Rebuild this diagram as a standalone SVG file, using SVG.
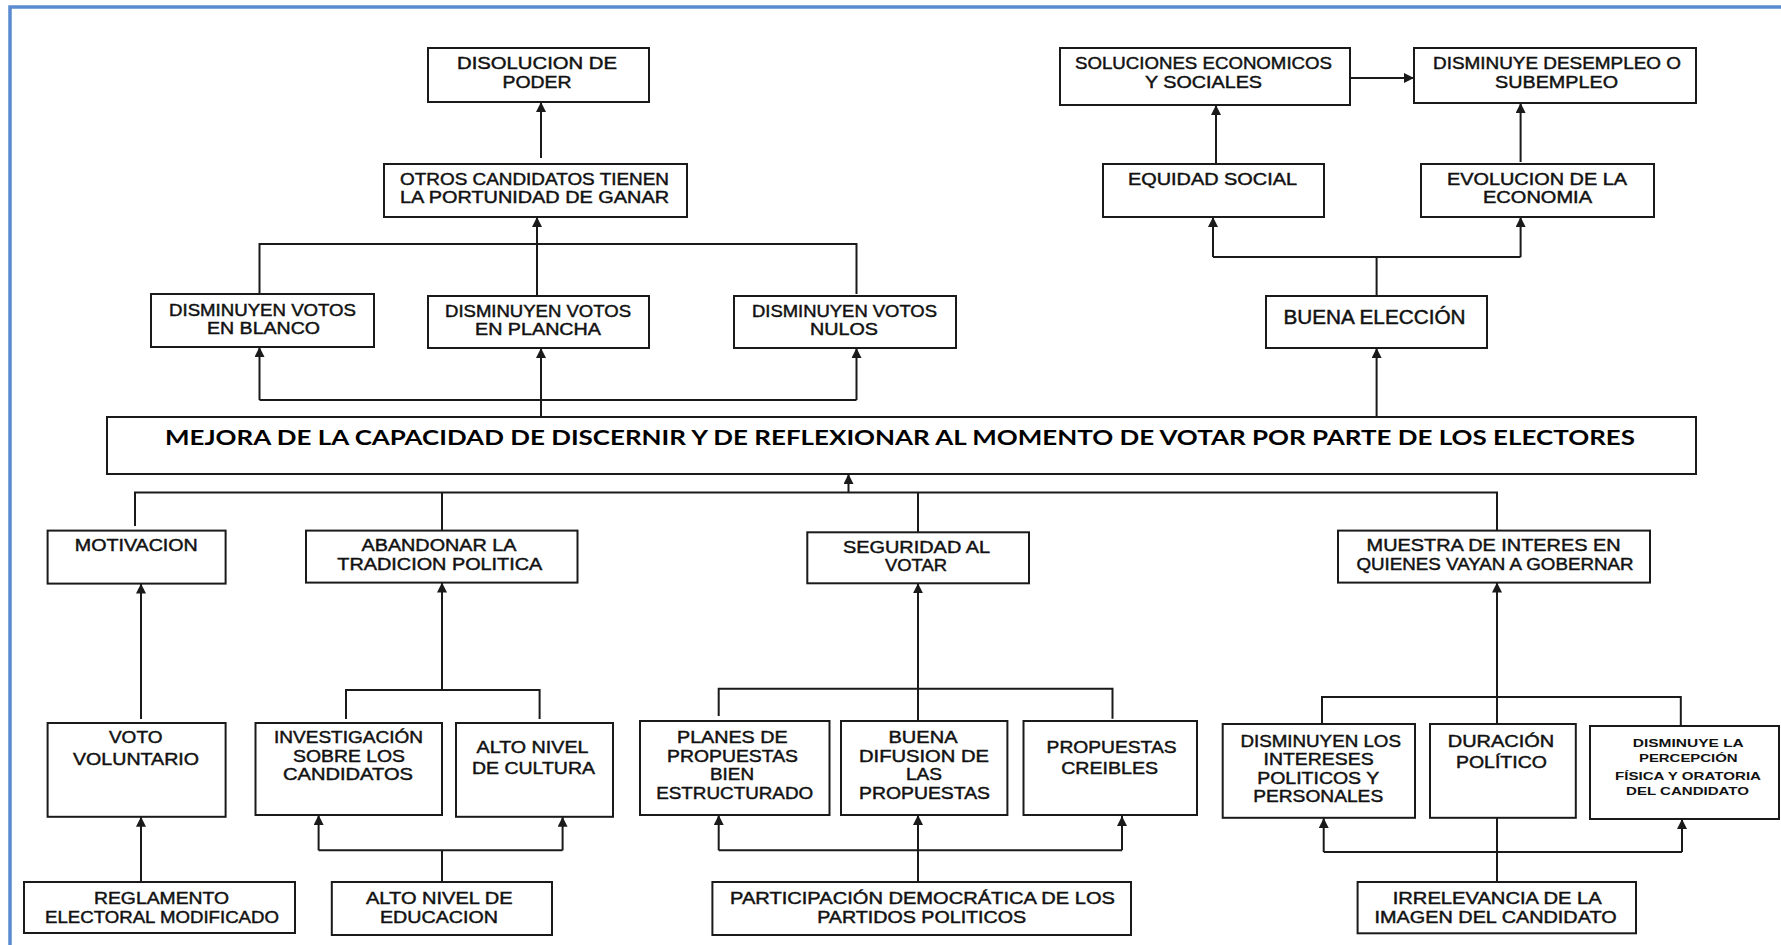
<svg xmlns="http://www.w3.org/2000/svg" width="1781" height="945" viewBox="0 0 1781 945">
<style>
.box{fill:#fff;stroke:#1a1a1a;stroke-width:2}
.c{fill:none;stroke:#1a1a1a;stroke-width:2}
.a{fill:none;stroke:#1a1a1a;stroke-width:2;marker-end:url(#ah)}
.t{font-family:"Liberation Sans",Arial,sans-serif;font-size:17px;fill:#111;stroke:#111;stroke-width:0.45;text-anchor:middle}
.big{font-size:19.5px}
.sm{font-size:11.5px;font-weight:bold;stroke-width:0}
.title{font-family:Lato,"Open Sans","Liberation Sans",sans-serif;font-size:21px;font-weight:bold;fill:#000;text-anchor:middle}
</style>
<defs>
<marker id="ah" viewBox="0 0 10 10" refX="10" refY="5" markerUnits="userSpaceOnUse" markerWidth="10" markerHeight="10" orient="auto">
<path d="M0,0 L10,5 L0,10 z" fill="#1a1a1a"/>
</marker>
</defs>
<rect width="1781" height="945" fill="#fff"/>
<path d="M10,945 V7 H1781" fill="none" stroke="#5a8ad0" stroke-width="3.5"/>

<g id="connectors">
<path class="a" d="M541,158 V102"/>
<path class="a" d="M537,296 V217"/>
<path class="c" d="M259.5,294 V244 H856.5 V294"/>
<path class="c" d="M259.5,400 H856.5"/>
<path class="a" d="M259.5,400 V347"/>
<path class="a" d="M856.5,400 V348"/>
<path class="a" d="M541,417 V348"/>
<path class="a" d="M1350,78 H1414"/>
<path class="a" d="M1216,163 V105"/>
<path class="a" d="M1520.6,162 V103"/>
<path class="c" d="M1376.6,296 V257"/>
<path class="c" d="M1213,257 H1520.6"/>
<path class="a" d="M1213,257 V217"/>
<path class="a" d="M1520.6,257 V217"/>
<path class="a" d="M1376.6,417 V348"/>
<path class="c" d="M135,526 V492.4 H1497 V530.6"/>
<path class="c" d="M442,492.4 V530.6"/>
<path class="c" d="M918,492.4 V532.3"/>
<path class="a" d="M848.5,492.4 V474"/>
<path class="a" d="M141,719 V583.6"/>
<path class="c" d="M346,719 V690 H539.6 V719"/>
<path class="a" d="M442,690 V582.5"/>
<path class="c" d="M718.7,716 V688.8 H1112.5 V718.7"/>
<path class="a" d="M918,721 V583.3"/>
<path class="c" d="M1322,724 V697 H1680.8 V726"/>
<path class="a" d="M1497,724 V582.5"/>
<path class="a" d="M141,882 V816.8"/>
<path class="c" d="M442,882 V850.3"/>
<path class="c" d="M318.6,850.3 H562.6"/>
<path class="a" d="M318.6,850.3 V815"/>
<path class="a" d="M562.6,850.3 V816.8"/>
<path class="a" d="M918,882 V815"/>
<path class="c" d="M718.7,850.3 H1122"/>
<path class="a" d="M718.7,850.3 V815"/>
<path class="a" d="M1122,850.3 V816"/>
<path class="c" d="M1497,882 V818"/>
<path class="c" d="M1323.7,852 H1682"/>
<path class="a" d="M1323.7,852 V818"/>
<path class="a" d="M1682,852 V819"/>
</g>

<g id="disolucion">
<rect class="box" x="428" y="48" width="221" height="54"/>
<text class="t" x="537" y="69" textLength="160" lengthAdjust="spacingAndGlyphs">DISOLUCION DE</text>
<text class="t" x="537" y="88" textLength="69" lengthAdjust="spacingAndGlyphs">PODER</text>
</g>
<g id="otros">
<rect class="box" x="384" y="164" width="303" height="53"/>
<text class="t" x="534.5" y="185" textLength="269" lengthAdjust="spacingAndGlyphs">OTROS CANDIDATOS TIENEN</text>
<text class="t" x="534.5" y="203" textLength="269" lengthAdjust="spacingAndGlyphs">LA PORTUNIDAD DE GANAR</text>
</g>
<g id="blanco">
<rect class="box" x="151" y="294" width="223" height="53"/>
<text class="t" x="262.5" y="316" textLength="187" lengthAdjust="spacingAndGlyphs">DISMINUYEN VOTOS</text>
<text class="t" x="263.5" y="334" textLength="113" lengthAdjust="spacingAndGlyphs">EN BLANCO</text>
</g>
<g id="plancha">
<rect class="box" x="428" y="296" width="221" height="52"/>
<text class="t" x="538" y="317" textLength="186" lengthAdjust="spacingAndGlyphs">DISMINUYEN VOTOS</text>
<text class="t" x="538" y="335" textLength="126" lengthAdjust="spacingAndGlyphs">EN PLANCHA</text>
</g>
<g id="nulos">
<rect class="box" x="734" y="296" width="222" height="52"/>
<text class="t" x="844.5" y="317" textLength="185" lengthAdjust="spacingAndGlyphs">DISMINUYEN VOTOS</text>
<text class="t" x="844" y="335" textLength="68" lengthAdjust="spacingAndGlyphs">NULOS</text>
</g>
<g id="soluciones">
<rect class="box" x="1060" y="48" width="290" height="57"/>
<text class="t" x="1203.5" y="69" textLength="257" lengthAdjust="spacingAndGlyphs">SOLUCIONES ECONOMICOS</text>
<text class="t" x="1203.5" y="88" textLength="117" lengthAdjust="spacingAndGlyphs">Y SOCIALES</text>
</g>
<g id="desempleo">
<rect class="box" x="1414" y="48" width="282" height="55"/>
<text class="t" x="1557" y="69" textLength="248" lengthAdjust="spacingAndGlyphs">DISMINUYE DESEMPLEO O</text>
<text class="t" x="1556.5" y="88" textLength="123" lengthAdjust="spacingAndGlyphs">SUBEMPLEO</text>
</g>
<g id="equidad">
<rect class="box" x="1103" y="164" width="221" height="53"/>
<text class="t" x="1212.5" y="185" textLength="169" lengthAdjust="spacingAndGlyphs">EQUIDAD SOCIAL</text>
</g>
<g id="evolucion">
<rect class="box" x="1421" y="164" width="233" height="53"/>
<text class="t" x="1537" y="185" textLength="180" lengthAdjust="spacingAndGlyphs">EVOLUCION DE LA</text>
<text class="t" x="1537.5" y="203" textLength="109" lengthAdjust="spacingAndGlyphs">ECONOMIA</text>
</g>
<g id="buena-eleccion">
<rect class="box" x="1266" y="296" width="221" height="52"/>
<text class="t big" x="1374.5" y="324" textLength="182" lengthAdjust="spacingAndGlyphs">BUENA ELECCIÓN</text>
</g>
<g id="mejora">
<rect class="box" x="107" y="417" width="1589" height="57"/>
<text class="title" x="900" y="445" textLength="1470" lengthAdjust="spacingAndGlyphs">MEJORA DE LA CAPACIDAD DE DISCERNIR Y DE REFLEXIONAR AL MOMENTO DE VOTAR POR PARTE DE LOS ELECTORES</text>
</g>
<g id="motivacion">
<rect class="box" x="47.6" y="530.6" width="178" height="53"/>
<text class="t" x="136.3" y="551" textLength="123" lengthAdjust="spacingAndGlyphs">MOTIVACION</text>
</g>
<g id="abandonar">
<rect class="box" x="306" y="530.6" width="271.5" height="52"/>
<text class="t" x="439" y="551" textLength="155" lengthAdjust="spacingAndGlyphs">ABANDONAR LA</text>
<text class="t" x="439.8" y="570" textLength="205" lengthAdjust="spacingAndGlyphs">TRADICION POLITICA</text>
</g>
<g id="seguridad">
<rect class="box" x="807.3" y="532.3" width="221.7" height="51"/>
<text class="t" x="916.5" y="553" textLength="147" lengthAdjust="spacingAndGlyphs">SEGURIDAD AL</text>
<text class="t" x="916" y="571" textLength="62" lengthAdjust="spacingAndGlyphs">VOTAR</text>
</g>
<g id="muestra">
<rect class="box" x="1338" y="530.6" width="312" height="52"/>
<text class="t" x="1493.6" y="551" textLength="254" lengthAdjust="spacingAndGlyphs">MUESTRA DE INTERES EN</text>
<text class="t" x="1495" y="570" textLength="277" lengthAdjust="spacingAndGlyphs">QUIENES VAYAN A GOBERNAR</text>
</g>
<g id="voto">
<rect class="box" x="47.6" y="723" width="178" height="93.8"/>
<text class="t" x="135.7" y="743" textLength="53.5" lengthAdjust="spacingAndGlyphs">VOTO</text>
<text class="t" x="136" y="764.5" textLength="126" lengthAdjust="spacingAndGlyphs">VOLUNTARIO</text>
</g>
<g id="investigacion">
<rect class="box" x="255.5" y="723" width="186.5" height="92"/>
<text class="t" x="348.5" y="743" textLength="149" lengthAdjust="spacingAndGlyphs">INVESTIGACIÓN</text>
<text class="t" x="349" y="762" textLength="112" lengthAdjust="spacingAndGlyphs">SOBRE LOS</text>
<text class="t" x="348" y="780" textLength="130" lengthAdjust="spacingAndGlyphs">CANDIDATOS</text>
</g>
<g id="cultura">
<rect class="box" x="456" y="723" width="157" height="93.8"/>
<text class="t" x="532.5" y="753" textLength="112" lengthAdjust="spacingAndGlyphs">ALTO NIVEL</text>
<text class="t" x="533.5" y="773.5" textLength="123" lengthAdjust="spacingAndGlyphs">DE CULTURA</text>
</g>
<g id="planes">
<rect class="box" x="640" y="721" width="189.5" height="94"/>
<text class="t" x="732.3" y="743" textLength="110.6" lengthAdjust="spacingAndGlyphs">PLANES DE</text>
<text class="t" x="732.5" y="762" textLength="131" lengthAdjust="spacingAndGlyphs">PROPUESTAS</text>
<text class="t" x="732" y="780" textLength="44" lengthAdjust="spacingAndGlyphs">BIEN</text>
<text class="t" x="734.7" y="799" textLength="157" lengthAdjust="spacingAndGlyphs">ESTRUCTURADO</text>
</g>
<g id="difusion">
<rect class="box" x="841" y="721" width="166.4" height="94"/>
<text class="t" x="923" y="743" textLength="69" lengthAdjust="spacingAndGlyphs">BUENA</text>
<text class="t" x="924" y="762" textLength="130" lengthAdjust="spacingAndGlyphs">DIFUSION DE</text>
<text class="t" x="924" y="780" textLength="36" lengthAdjust="spacingAndGlyphs">LAS</text>
<text class="t" x="924.5" y="799" textLength="131" lengthAdjust="spacingAndGlyphs">PROPUESTAS</text>
</g>
<g id="creibles">
<rect class="box" x="1023.5" y="721" width="173.5" height="94"/>
<text class="t" x="1111.6" y="753" textLength="130" lengthAdjust="spacingAndGlyphs">PROPUESTAS</text>
<text class="t" x="1109.7" y="773.5" textLength="97" lengthAdjust="spacingAndGlyphs">CREIBLES</text>
</g>
<g id="intereses">
<rect class="box" x="1222.7" y="724" width="192.3" height="93.8"/>
<text class="t" x="1320.7" y="746.5" textLength="160.5" lengthAdjust="spacingAndGlyphs">DISMINUYEN LOS</text>
<text class="t" x="1318.6" y="764.5" textLength="110" lengthAdjust="spacingAndGlyphs">INTERESES</text>
<text class="t" x="1318.2" y="783.5" textLength="122" lengthAdjust="spacingAndGlyphs">POLITICOS Y</text>
<text class="t" x="1318.2" y="802" textLength="130" lengthAdjust="spacingAndGlyphs">PERSONALES</text>
</g>
<g id="duracion">
<rect class="box" x="1430" y="724" width="145.8" height="93.8"/>
<text class="t" x="1501" y="746.5" textLength="106.5" lengthAdjust="spacingAndGlyphs">DURACIÓN</text>
<text class="t" x="1501.4" y="768" textLength="91" lengthAdjust="spacingAndGlyphs">POLÍTICO</text>
</g>
<g id="percepcion">
<rect class="box" x="1590" y="726" width="189" height="93"/>
<text class="t sm" x="1688.3" y="746.8" textLength="111" lengthAdjust="spacingAndGlyphs">DISMINUYE  LA</text>
<text class="t sm" x="1688.3" y="762.4" textLength="98.7" lengthAdjust="spacingAndGlyphs">PERCEPCIÓN</text>
<text class="t sm" x="1688" y="780" textLength="146" lengthAdjust="spacingAndGlyphs">FÍSICA Y ORATORIA</text>
<text class="t sm" x="1687.5" y="794.8" textLength="123" lengthAdjust="spacingAndGlyphs">DEL CANDIDATO</text>
</g>
<g id="reglamento">
<rect class="box" x="24" y="882" width="271" height="51"/>
<text class="t" x="161.5" y="904" textLength="135" lengthAdjust="spacingAndGlyphs">REGLAMENTO</text>
<text class="t" x="162" y="922.7" textLength="234" lengthAdjust="spacingAndGlyphs">ELECTORAL MODIFICADO</text>
</g>
<g id="educacion">
<rect class="box" x="331.8" y="882" width="220.2" height="53"/>
<text class="t" x="439.3" y="904" textLength="146.6" lengthAdjust="spacingAndGlyphs">ALTO NIVEL DE</text>
<text class="t" x="439" y="923" textLength="118" lengthAdjust="spacingAndGlyphs">EDUCACION</text>
</g>
<g id="participacion">
<rect class="box" x="712.4" y="882" width="418.6" height="53"/>
<text class="t" x="922.5" y="904" textLength="385" lengthAdjust="spacingAndGlyphs">PARTICIPACIÓN DEMOCRÁTICA DE LOS</text>
<text class="t" x="921.7" y="923" textLength="209" lengthAdjust="spacingAndGlyphs">PARTIDOS POLITICOS</text>
</g>
<g id="irrelevancia">
<rect class="box" x="1357.6" y="882" width="278.4" height="51.3"/>
<text class="t" x="1497.2" y="904" textLength="209" lengthAdjust="spacingAndGlyphs">IRRELEVANCIA DE LA</text>
<text class="t" x="1495.6" y="923" textLength="242" lengthAdjust="spacingAndGlyphs">IMAGEN DEL CANDIDATO</text>
</g>
</svg>
